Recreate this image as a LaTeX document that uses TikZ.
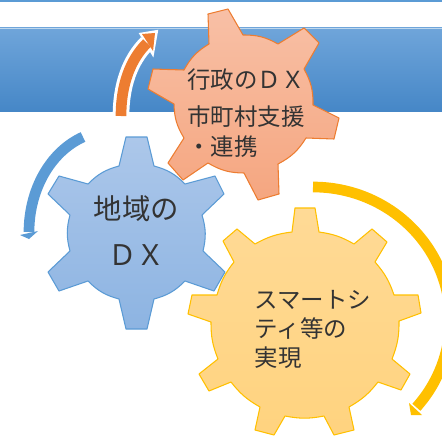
\documentclass[tikz,border=0pt]{standalone}
\usepackage{fontspec}
\usepackage{xcolor}
\setmainfont{Noto Sans CJK JP}
\usetikzlibrary{positioning}

\definecolor{bandblue}{HTML}{5B9BD5}
\definecolor{arroworange}{HTML}{ED7D31}
\definecolor{arrowyellow}{HTML}{FFC000}
\definecolor{bandtop}{HTML}{6FA5DA}
\definecolor{bandmid}{HTML}{559ADB}
\definecolor{bandlow}{HTML}{4687C7}

\tikzset{
    bluegear/.style={draw=bandblue, line width=0.8pt, line join=round, top color={rgb,255:red,172;green,199;blue,234}, bottom color={rgb,255:red,141;green,180;blue,226}},
    orangegear/.style={draw=arroworange, line width=0.8pt, line join=round, top color={rgb,255:red,248;green,192;blue,166}, bottom color={rgb,255:red,245;green,166;blue,128}},
    yellowgear/.style={draw=arrowyellow, line width=0.8pt, line join=round, top color={rgb,255:red,255;green,218;blue,150}, bottom color={rgb,255:red,255;green,211;blue,127}},
    geartext/.style={text=black!80, align=left, inner sep=0pt}
}

\begin{document}
\begin{tikzpicture}[x=0.75pt, y=-0.75pt]
    \useasboundingbox (0,0) rectangle (442,435);
    \clip (0,0) rectangle (442,435);

    % top strip and band
    \fill[bandblue] (0,0) rectangle (442,2);
    \fill[top color=bandtop, middle color=bandmid, bottom color=bandlow] (0,28) rectangle (442,111);
    \draw[bandblue!40!white, line width=0.6pt] (0,28) -- (442,28);

    % blue arrow
    \draw[bandblue, line width=8pt] (83,137) .. controls (50,152) and (29,190) .. (29,232);
    \fill[bandblue] (20,235) -- (38,231) -- (29,239) -- cycle;

    % orange arrow, with a white edge
    \draw[white, line width=12.5pt] (121,116) .. controls (121,85) and (130,60) .. (147,43);
    \draw[white, line width=4pt, miter limit=10, fill=white] (143,35) -- (155,33) -- (152,50) -- cycle;
    \draw[arroworange, line width=8pt] (121,116) .. controls (121,85) and (130,60) .. (147,43);
    \fill[arroworange] (142,34) -- (155,33) -- (153,51) -- cycle;

    % orange gear
    \draw[orangegear] (208,14) -- (228,9) -- (243,35) to[bend left=15] (278,44)
        -- (304,28) -- (319,43) -- (304,69) to[bend left=15] (313,105)
        -- (339,118) -- (334,139) -- (306,138) to[bend left=15] (278,164)
        -- (279,194) -- (258,200) -- (244,173) to[bend left=15] (208,163)
        -- (183,180) -- (168,163) -- (184,138) to[bend left=15] (174,104)
        -- (148,89) -- (153,69) -- (184,70) to[bend left=15] (209,44) -- cycle;

    % blue gear
    \draw[bluegear] (126,137) -- (147,137) -- (154,166) to[bend left=15] (185,184)
        -- (215,176) -- (224,194) -- (202,215) to[bend left=15] (203,251)
        -- (225,272) -- (214,291) -- (185,281) to[bend left=15] (154,299)
        -- (147,329) -- (126,329) -- (119,299) to[bend left=15] (88,281)
        -- (59,291) -- (48,272) -- (70,251) to[bend left=15] (70,215)
        -- (48,194) -- (59,176) -- (88,184) to[bend left=15] (119,166) -- cycle;

    % yellow arrow
    \draw[arrowyellow, line width=8pt] (313,187) arc[start angle=-90, end angle=41, x radius=137, y radius=133];
    \fill[arrowyellow] (409,403) -- (422,415) -- (411,415) -- cycle;

    % yellow gear
    \draw[yellowgear] (295,208) -- (315,208) -- (319,232) to[bend left=11] (354,244)
        -- (372,229) -- (387,242) -- (375,262) to[bend left=11] (394,295)
        -- (418,295) -- (421,313) -- (399,321) to[bend left=11] (392,359)
        -- (410,374) -- (401,390) -- (378,382) to[bend left=11] (349,407)
        -- (354,430) -- (334,435) -- (324,416) to[bend left=11] (285,416)
        -- (274,435) -- (255,430) -- (260,407) to[bend left=11] (231,382)
        -- (209,391) -- (199,374) -- (218,359) to[bend left=11] (211,322)
        -- (188,314) -- (192,295) -- (217,295) to[bend left=11] (234,262)
        -- (223,241) -- (237,229) -- (255,244) to[bend left=11] (292,232) -- cycle;

    \node[geartext, font=\fontsize{17.6}{22.5}\selectfont] (gov_text) at (246,113) {行政のＤＸ\\[5.25pt]市町村支援\\・連携};
    \node[geartext, align=center, font=\fontsize{21.3}{34.5}\selectfont] (area_text) at (136.5,231) {地域の\\ＤＸ};
    \node[geartext, font=\fontsize{17.6}{21.75}\selectfont] (city_text) at (313,329) {スマートシ\\ティ等の\\実現};
\end{tikzpicture}
\end{document}
